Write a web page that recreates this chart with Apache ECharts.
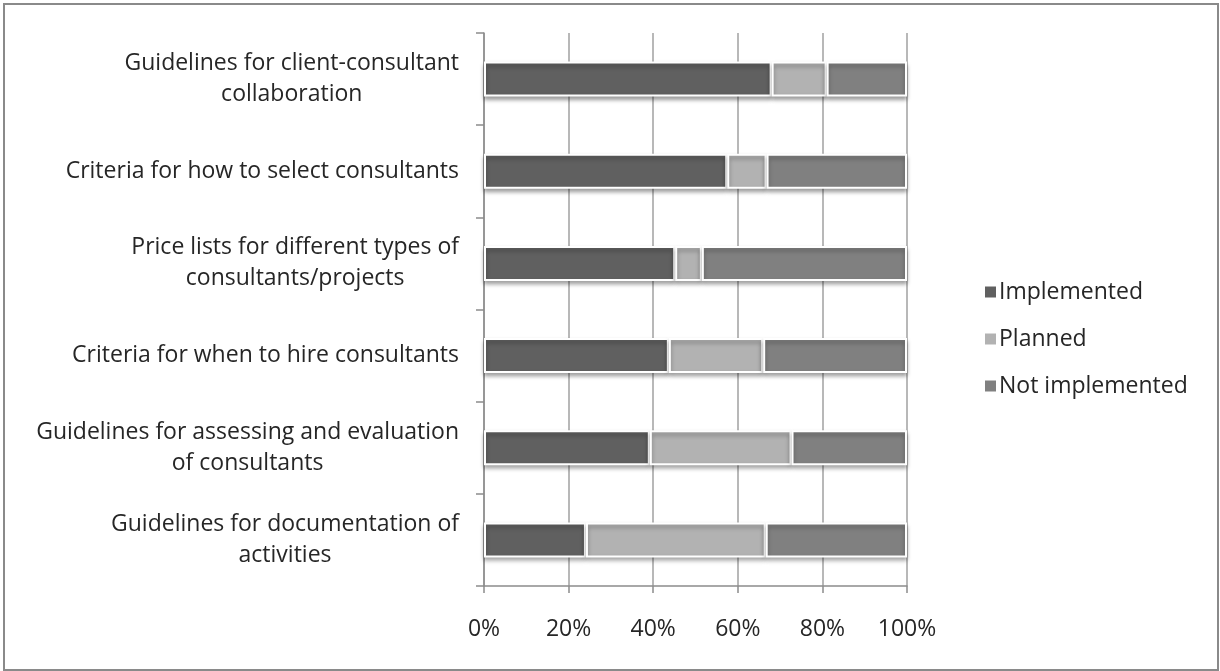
<!DOCTYPE html>
<html>
<head>
<meta charset="utf-8">
<script src="https://cdn.jsdelivr.net/npm/echarts@6/dist/echarts.min.js"></script>
<style>
  html, body { margin: 0; padding: 0; background: #ffffff; }
  #chart { width: 1220px; height: 671px; }
</style>
</head>
<body>
<div id="chart"></div>
<script>
// Categories, top to bottom
const categories = [
  'Guidelines for client-consultant\ncollaboration',
  'Criteria for how to select consultants',
  'Price lists for different types of\nconsultants/projects',
  'Criteria for when to hire consultants',
  'Guidelines for assessing and evaluation\nof consultants',
  'Guidelines for documentation of\nactivities'
];

// Share of respondents (%) per status
const implemented    = [68.0, 57.5, 45.2, 43.7, 39.2, 24.1];
const planned        = [13.0,  9.3,  6.3, 22.3, 33.5, 42.5];
const notImplemented = [19.0, 33.2, 48.5, 34.0, 27.3, 33.4];

const xTicks = [0, 20, 40, 60, 80, 100];

const seriesNames = ['Implemented', 'Planned', 'Not implemented'];
const seriesColors = ['#606060', '#b2b2b2', '#808080'];
const seriesData = [implemented, planned, notImplemented];

const font = '"Open Sans", Lato, sans-serif';
const fontSize = 23;
const textColor = '#262626';

const chart = echarts.init(document.getElementById('chart'), null, { renderer: 'canvas' });

chart.setOption({
  animation: false,
  backgroundColor: '#ffffff',
  textStyle: { fontFamily: font },
  graphic: [{
    type: 'rect',
    shape: { x: 4, y: 4, width: 1214, height: 666 },
    style: { fill: 'none', stroke: '#8a8a8a', lineWidth: 2 },
    silent: true,
    z: -1
  }],
  grid: { left: 484, right: 313, top: 33, bottom: 85, containLabel: false },
  legend: {
    orient: 'vertical',
    left: 978,
    top: 273,
    itemWidth: 13,
    itemHeight: 13,
    itemGap: 19,
    icon: 'rect',
    data: seriesNames,
    textStyle: { fontFamily: font, fontSize: fontSize, color: textColor, lineHeight: 28, padding: [0, 0, 0, -3] }
  },
  xAxis: {
    type: 'value',
    min: xTicks[0],
    max: xTicks[xTicks.length - 1],
    interval: 20,
    axisLine: { show: true, lineStyle: { color: '#8c8c8c', width: 1.5 } },
    axisTick: { show: true, length: 7, lineStyle: { color: '#8c8c8c', width: 1.5 } },
    splitLine: { show: true, lineStyle: { color: '#a0a0a0', width: 1.5 } },
    axisLabel: {
      formatter: v => v + '%',
      fontFamily: font, fontSize: fontSize, color: textColor, margin: 32
    }
  },
  yAxis: {
    type: 'category',
    inverse: true,
    data: categories,
    axisLine: { show: true, lineStyle: { color: '#8c8c8c', width: 1.5 } },
    axisTick: { show: true, length: 8, lineStyle: { color: '#8c8c8c', width: 1.5 } },
    splitLine: { show: false },
    axisLabel: {
      margin: 25,
      align: 'right',
      // each line centred within the label block
      formatter: v => v.split('\n').map(l => '{c|' + l + '}').join('\n'),
      rich: {
        c: { fontFamily: font, fontSize: fontSize, color: textColor, lineHeight: 31, align: 'center' }
      }
    }
  },
  series: seriesNames.map((name, i) => ({
    name: name,
    type: 'bar',
    stack: 'total',
    barWidth: 35,
    data: seriesData[i],
    itemStyle: {
      color: seriesColors[i],
      borderColor: '#ffffff',
      borderWidth: 2,
      shadowColor: 'rgba(0,0,0,0.35)',
      shadowBlur: 4,
      shadowOffsetY: 3
    }
  }))
});
</script>
</body>
</html>
